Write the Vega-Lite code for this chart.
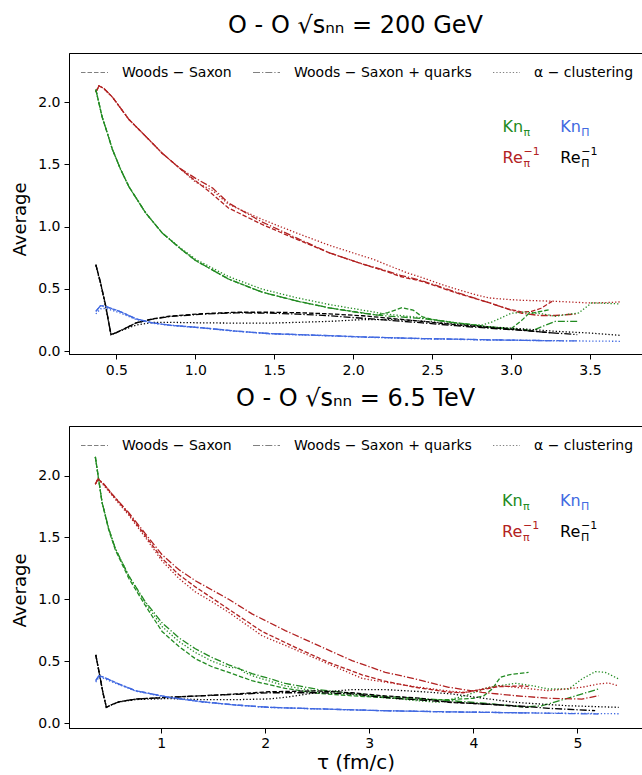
{
"$schema":"https://vega.github.io/schema/vega-lite/v6.json",
"padding":{"left":11,"top":13,"right":2,"bottom":0},
"config":{"font":"DejaVu Sans","view":{"stroke":"black","strokeWidth":1},
"axis":{"domainColor":"black","tickColor":"black","labelColor":"black","titleColor":"black","labelFontSize":14,"titleFontSize":18,"titleFontWeight":"normal","tickSize":5,"labelPadding":4,"grid":false,"labelFont":"DejaVu Sans","titleFont":"DejaVu Sans","titlePadding":8},
"title":{"fontSize":24,"fontWeight":"normal","font":"DejaVu Sans","anchor":"middle","frame":"group","offset":15,"color":"black"},
"legend":{"orient":"none","legendX":11,"legendY":5,"direction":"horizontal","gridAlign":"none","symbolType":"stroke","symbolStrokeColor":"#808080","symbolStrokeWidth":1.2,"symbolSize":729,"labelFontSize":14,"labelFont":"DejaVu Sans","labelColor":"black","labelLimit":400,"columnPadding":18,"labelOffset":13,"padding":0,"title":null}},
"resolve":{"scale":{"strokeDash":"independent","color":"independent"},"legend":{"strokeDash":"independent"}},
"spacing":8,
"datasets":{
"top":[
{"m":"WS","q":"Re_pi","t":0.37,"v":2.08},{"m":"WS","q":"Re_pi","t":0.39,"v":2.13},{"m":"WS","q":"Re_pi","t":0.42,"v":2.11},{"m":"WS","q":"Re_pi","t":0.475,"v":2.04},{"m":"WS","q":"Re_pi","t":0.58,"v":1.86},{"m":"WS","q":"Re_pi","t":0.69,"v":1.72},{"m":"WS","q":"Re_pi","t":0.79,"v":1.59},{"m":"WS","q":"Re_pi","t":0.9,"v":1.47},{"m":"WS","q":"Re_pi","t":1.0,"v":1.37},{"m":"WS","q":"Re_pi","t":1.1,"v":1.27},{"m":"WS","q":"Re_pi","t":1.21,"v":1.15},{"m":"WS","q":"Re_pi","t":1.42,"v":1.02},{"m":"WS","q":"Re_pi","t":1.64,"v":0.9},{"m":"WS","q":"Re_pi","t":1.85,"v":0.79},{"m":"WS","q":"Re_pi","t":2.06,"v":0.7},{"m":"WS","q":"Re_pi","t":2.2,"v":0.645},{"m":"WS","q":"Re_pi","t":2.3,"v":0.6},{"m":"WS","q":"Re_pi","t":2.44,"v":0.56},{"m":"WS","q":"Re_pi","t":2.65,"v":0.47},{"m":"WS","q":"Re_pi","t":2.86,"v":0.39},{"m":"WS","q":"Re_pi","t":2.98,"v":0.34},{"m":"WS","q":"Re_pi","t":3.07,"v":0.315},{"m":"WS","q":"Re_pi","t":3.13,"v":0.32},{"m":"WS","q":"Re_pi","t":3.19,"v":0.345},{"m":"WS","q":"Re_pi","t":3.26,"v":0.4},
{"m":"WSq","q":"Re_pi","t":0.37,"v":2.08},{"m":"WSq","q":"Re_pi","t":0.39,"v":2.13},{"m":"WSq","q":"Re_pi","t":0.42,"v":2.11},{"m":"WSq","q":"Re_pi","t":0.475,"v":2.04},{"m":"WSq","q":"Re_pi","t":0.58,"v":1.86},{"m":"WSq","q":"Re_pi","t":0.69,"v":1.72},{"m":"WSq","q":"Re_pi","t":0.79,"v":1.59},{"m":"WSq","q":"Re_pi","t":0.9,"v":1.47},{"m":"WSq","q":"Re_pi","t":1.0,"v":1.39},{"m":"WSq","q":"Re_pi","t":1.11,"v":1.31},{"m":"WSq","q":"Re_pi","t":1.21,"v":1.19},{"m":"WSq","q":"Re_pi","t":1.42,"v":1.04},{"m":"WSq","q":"Re_pi","t":1.64,"v":0.91},{"m":"WSq","q":"Re_pi","t":1.85,"v":0.79},{"m":"WSq","q":"Re_pi","t":2.06,"v":0.7},{"m":"WSq","q":"Re_pi","t":2.2,"v":0.65},{"m":"WSq","q":"Re_pi","t":2.3,"v":0.61},{"m":"WSq","q":"Re_pi","t":2.44,"v":0.565},{"m":"WSq","q":"Re_pi","t":2.65,"v":0.475},{"m":"WSq","q":"Re_pi","t":2.86,"v":0.39},{"m":"WSq","q":"Re_pi","t":2.99,"v":0.335},{"m":"WSq","q":"Re_pi","t":3.07,"v":0.305},{"m":"WSq","q":"Re_pi","t":3.18,"v":0.287},{"m":"WSq","q":"Re_pi","t":3.28,"v":0.287},{"m":"WSq","q":"Re_pi","t":3.42,"v":0.3},
{"m":"alpha","q":"Re_pi","t":0.37,"v":2.08},{"m":"alpha","q":"Re_pi","t":0.39,"v":2.13},{"m":"alpha","q":"Re_pi","t":0.42,"v":2.11},{"m":"alpha","q":"Re_pi","t":0.475,"v":2.04},{"m":"alpha","q":"Re_pi","t":0.58,"v":1.86},{"m":"alpha","q":"Re_pi","t":0.69,"v":1.72},{"m":"alpha","q":"Re_pi","t":0.79,"v":1.59},{"m":"alpha","q":"Re_pi","t":0.9,"v":1.47},{"m":"alpha","q":"Re_pi","t":1.0,"v":1.36},{"m":"alpha","q":"Re_pi","t":1.11,"v":1.29},{"m":"alpha","q":"Re_pi","t":1.21,"v":1.18},{"m":"alpha","q":"Re_pi","t":1.42,"v":1.06},{"m":"alpha","q":"Re_pi","t":1.64,"v":0.95},{"m":"alpha","q":"Re_pi","t":1.85,"v":0.85},{"m":"alpha","q":"Re_pi","t":2.06,"v":0.765},{"m":"alpha","q":"Re_pi","t":2.13,"v":0.737},{"m":"alpha","q":"Re_pi","t":2.34,"v":0.63},{"m":"alpha","q":"Re_pi","t":2.44,"v":0.59},{"m":"alpha","q":"Re_pi","t":2.56,"v":0.536},{"m":"alpha","q":"Re_pi","t":2.65,"v":0.5},{"m":"alpha","q":"Re_pi","t":2.77,"v":0.456},{"m":"alpha","q":"Re_pi","t":2.86,"v":0.428},{"m":"alpha","q":"Re_pi","t":2.99,"v":0.415},{"m":"alpha","q":"Re_pi","t":3.07,"v":0.409},{"m":"alpha","q":"Re_pi","t":3.28,"v":0.401},{"m":"alpha","q":"Re_pi","t":3.49,"v":0.388},{"m":"alpha","q":"Re_pi","t":3.6,"v":0.39},{"m":"alpha","q":"Re_pi","t":3.69,"v":0.396},
{"m":"WS","q":"Kn_pi","t":0.37,"v":2.1},{"m":"WS","q":"Kn_pi","t":0.39,"v":1.99},{"m":"WS","q":"Kn_pi","t":0.41,"v":1.88},{"m":"WS","q":"Kn_pi","t":0.443,"v":1.75},{"m":"WS","q":"Kn_pi","t":0.475,"v":1.62},{"m":"WS","q":"Kn_pi","t":0.527,"v":1.46},{"m":"WS","q":"Kn_pi","t":0.58,"v":1.32},{"m":"WS","q":"Kn_pi","t":0.686,"v":1.11},{"m":"WS","q":"Kn_pi","t":0.79,"v":0.95},{"m":"WS","q":"Kn_pi","t":0.9,"v":0.83},{"m":"WS","q":"Kn_pi","t":1.0,"v":0.73},{"m":"WS","q":"Kn_pi","t":1.21,"v":0.58},{"m":"WS","q":"Kn_pi","t":1.42,"v":0.476},{"m":"WS","q":"Kn_pi","t":1.64,"v":0.404},{"m":"WS","q":"Kn_pi","t":1.85,"v":0.348},{"m":"WS","q":"Kn_pi","t":2.06,"v":0.308},{"m":"WS","q":"Kn_pi","t":2.15,"v":0.29},{"m":"WS","q":"Kn_pi","t":2.22,"v":0.31},{"m":"WS","q":"Kn_pi","t":2.31,"v":0.35},{"m":"WS","q":"Kn_pi","t":2.38,"v":0.33},{"m":"WS","q":"Kn_pi","t":2.44,"v":0.275},{"m":"WS","q":"Kn_pi","t":2.5,"v":0.255},{"m":"WS","q":"Kn_pi","t":2.65,"v":0.228},{"m":"WS","q":"Kn_pi","t":2.77,"v":0.212},{"m":"WS","q":"Kn_pi","t":2.86,"v":0.196},{"m":"WS","q":"Kn_pi","t":3.0,"v":0.18},{"m":"WS","q":"Kn_pi","t":3.07,"v":0.25},{"m":"WS","q":"Kn_pi","t":3.11,"v":0.3},{"m":"WS","q":"Kn_pi","t":3.25,"v":0.335},
{"m":"WSq","q":"Kn_pi","t":0.37,"v":2.1},{"m":"WSq","q":"Kn_pi","t":0.39,"v":1.99},{"m":"WSq","q":"Kn_pi","t":0.41,"v":1.88},{"m":"WSq","q":"Kn_pi","t":0.443,"v":1.75},{"m":"WSq","q":"Kn_pi","t":0.475,"v":1.62},{"m":"WSq","q":"Kn_pi","t":0.527,"v":1.46},{"m":"WSq","q":"Kn_pi","t":0.58,"v":1.32},{"m":"WSq","q":"Kn_pi","t":0.686,"v":1.11},{"m":"WSq","q":"Kn_pi","t":0.79,"v":0.95},{"m":"WSq","q":"Kn_pi","t":0.9,"v":0.83},{"m":"WSq","q":"Kn_pi","t":1.0,"v":0.73},{"m":"WSq","q":"Kn_pi","t":1.21,"v":0.58},{"m":"WSq","q":"Kn_pi","t":1.42,"v":0.476},{"m":"WSq","q":"Kn_pi","t":1.64,"v":0.404},{"m":"WSq","q":"Kn_pi","t":1.85,"v":0.348},{"m":"WSq","q":"Kn_pi","t":2.06,"v":0.305},{"m":"WSq","q":"Kn_pi","t":2.2,"v":0.285},{"m":"WSq","q":"Kn_pi","t":2.44,"v":0.262},{"m":"WSq","q":"Kn_pi","t":2.65,"v":0.228},{"m":"WSq","q":"Kn_pi","t":2.86,"v":0.196},{"m":"WSq","q":"Kn_pi","t":3.0,"v":0.18},{"m":"WSq","q":"Kn_pi","t":3.09,"v":0.174},{"m":"WSq","q":"Kn_pi","t":3.13,"v":0.162},{"m":"WSq","q":"Kn_pi","t":3.2,"v":0.2},{"m":"WSq","q":"Kn_pi","t":3.28,"v":0.24},{"m":"WSq","q":"Kn_pi","t":3.42,"v":0.24},
{"m":"alpha","q":"Kn_pi","t":0.37,"v":2.1},{"m":"alpha","q":"Kn_pi","t":0.39,"v":1.99},{"m":"alpha","q":"Kn_pi","t":0.41,"v":1.88},{"m":"alpha","q":"Kn_pi","t":0.443,"v":1.75},{"m":"alpha","q":"Kn_pi","t":0.475,"v":1.62},{"m":"alpha","q":"Kn_pi","t":0.527,"v":1.46},{"m":"alpha","q":"Kn_pi","t":0.58,"v":1.32},{"m":"alpha","q":"Kn_pi","t":0.686,"v":1.11},{"m":"alpha","q":"Kn_pi","t":0.79,"v":0.95},{"m":"alpha","q":"Kn_pi","t":0.9,"v":0.835},{"m":"alpha","q":"Kn_pi","t":1.0,"v":0.74},{"m":"alpha","q":"Kn_pi","t":1.21,"v":0.6},{"m":"alpha","q":"Kn_pi","t":1.42,"v":0.5},{"m":"alpha","q":"Kn_pi","t":1.64,"v":0.43},{"m":"alpha","q":"Kn_pi","t":1.85,"v":0.375},{"m":"alpha","q":"Kn_pi","t":2.06,"v":0.33},{"m":"alpha","q":"Kn_pi","t":2.2,"v":0.3},{"m":"alpha","q":"Kn_pi","t":2.44,"v":0.268},{"m":"alpha","q":"Kn_pi","t":2.65,"v":0.228},{"m":"alpha","q":"Kn_pi","t":2.77,"v":0.21},{"m":"alpha","q":"Kn_pi","t":2.82,"v":0.212},{"m":"alpha","q":"Kn_pi","t":2.88,"v":0.235},{"m":"alpha","q":"Kn_pi","t":2.96,"v":0.281},{"m":"alpha","q":"Kn_pi","t":3.0,"v":0.305},{"m":"alpha","q":"Kn_pi","t":3.09,"v":0.315},{"m":"alpha","q":"Kn_pi","t":3.2,"v":0.3},{"m":"alpha","q":"Kn_pi","t":3.28,"v":0.281},{"m":"alpha","q":"Kn_pi","t":3.43,"v":0.308},{"m":"alpha","q":"Kn_pi","t":3.51,"v":0.388},{"m":"alpha","q":"Kn_pi","t":3.6,"v":0.385},{"m":"alpha","q":"Kn_pi","t":3.69,"v":0.38},
{"m":"WS","q":"Re_Pi","t":0.37,"v":0.695},{"m":"WS","q":"Re_Pi","t":0.4,"v":0.55},{"m":"WS","q":"Re_Pi","t":0.43,"v":0.38},{"m":"WS","q":"Re_Pi","t":0.466,"v":0.134},{"m":"WS","q":"Re_Pi","t":0.5,"v":0.15},{"m":"WS","q":"Re_Pi","t":0.55,"v":0.18},{"m":"WS","q":"Re_Pi","t":0.625,"v":0.228},{"m":"WS","q":"Re_Pi","t":0.73,"v":0.26},{"m":"WS","q":"Re_Pi","t":0.835,"v":0.281},{"m":"WS","q":"Re_Pi","t":1.046,"v":0.302},{"m":"WS","q":"Re_Pi","t":1.257,"v":0.313},{"m":"WS","q":"Re_Pi","t":1.47,"v":0.313},{"m":"WS","q":"Re_Pi","t":1.65,"v":0.31},{"m":"WS","q":"Re_Pi","t":1.85,"v":0.3},{"m":"WS","q":"Re_Pi","t":2.06,"v":0.285},{"m":"WS","q":"Re_Pi","t":2.44,"v":0.24},{"m":"WS","q":"Re_Pi","t":2.65,"v":0.212},{"m":"WS","q":"Re_Pi","t":2.86,"v":0.19},{"m":"WS","q":"Re_Pi","t":3.07,"v":0.17},{"m":"WS","q":"Re_Pi","t":3.26,"v":0.147},
{"m":"WSq","q":"Re_Pi","t":0.37,"v":0.695},{"m":"WSq","q":"Re_Pi","t":0.4,"v":0.55},{"m":"WSq","q":"Re_Pi","t":0.43,"v":0.38},{"m":"WSq","q":"Re_Pi","t":0.466,"v":0.134},{"m":"WSq","q":"Re_Pi","t":0.5,"v":0.15},{"m":"WSq","q":"Re_Pi","t":0.55,"v":0.18},{"m":"WSq","q":"Re_Pi","t":0.625,"v":0.228},{"m":"WSq","q":"Re_Pi","t":0.73,"v":0.258},{"m":"WSq","q":"Re_Pi","t":0.835,"v":0.278},{"m":"WSq","q":"Re_Pi","t":1.046,"v":0.298},{"m":"WSq","q":"Re_Pi","t":1.257,"v":0.308},{"m":"WSq","q":"Re_Pi","t":1.47,"v":0.306},{"m":"WSq","q":"Re_Pi","t":1.65,"v":0.298},{"m":"WSq","q":"Re_Pi","t":1.85,"v":0.285},{"m":"WSq","q":"Re_Pi","t":2.06,"v":0.265},{"m":"WSq","q":"Re_Pi","t":2.44,"v":0.228},{"m":"WSq","q":"Re_Pi","t":2.65,"v":0.205},{"m":"WSq","q":"Re_Pi","t":2.86,"v":0.185},{"m":"WSq","q":"Re_Pi","t":3.07,"v":0.168},{"m":"WSq","q":"Re_Pi","t":3.26,"v":0.148},{"m":"WSq","q":"Re_Pi","t":3.42,"v":0.134},
{"m":"alpha","q":"Re_Pi","t":0.37,"v":0.69},{"m":"alpha","q":"Re_Pi","t":0.4,"v":0.54},{"m":"alpha","q":"Re_Pi","t":0.43,"v":0.37},{"m":"alpha","q":"Re_Pi","t":0.466,"v":0.134},{"m":"alpha","q":"Re_Pi","t":0.5,"v":0.15},{"m":"alpha","q":"Re_Pi","t":0.55,"v":0.175},{"m":"alpha","q":"Re_Pi","t":0.625,"v":0.21},{"m":"alpha","q":"Re_Pi","t":0.73,"v":0.232},{"m":"alpha","q":"Re_Pi","t":0.835,"v":0.232},{"m":"alpha","q":"Re_Pi","t":1.046,"v":0.228},{"m":"alpha","q":"Re_Pi","t":1.257,"v":0.226},{"m":"alpha","q":"Re_Pi","t":1.47,"v":0.226},{"m":"alpha","q":"Re_Pi","t":1.65,"v":0.232},{"m":"alpha","q":"Re_Pi","t":1.85,"v":0.24},{"m":"alpha","q":"Re_Pi","t":2.06,"v":0.254},{"m":"alpha","q":"Re_Pi","t":2.25,"v":0.255},{"m":"alpha","q":"Re_Pi","t":2.44,"v":0.242},{"m":"alpha","q":"Re_Pi","t":2.65,"v":0.218},{"m":"alpha","q":"Re_Pi","t":2.86,"v":0.196},{"m":"alpha","q":"Re_Pi","t":3.07,"v":0.18},{"m":"alpha","q":"Re_Pi","t":3.28,"v":0.16},{"m":"alpha","q":"Re_Pi","t":3.49,"v":0.147},{"m":"alpha","q":"Re_Pi","t":3.69,"v":0.128},
{"m":"WS","q":"Kn_Pi","t":0.37,"v":0.32},{"m":"WS","q":"Kn_Pi","t":0.4,"v":0.366},{"m":"WS","q":"Kn_Pi","t":0.43,"v":0.36},{"m":"WS","q":"Kn_Pi","t":0.52,"v":0.321},{"m":"WS","q":"Kn_Pi","t":0.625,"v":0.26},{"m":"WS","q":"Kn_Pi","t":0.73,"v":0.228},{"m":"WS","q":"Kn_Pi","t":0.835,"v":0.21},{"m":"WS","q":"Kn_Pi","t":1.046,"v":0.188},{"m":"WS","q":"Kn_Pi","t":1.257,"v":0.162},{"m":"WS","q":"Kn_Pi","t":1.47,"v":0.142},{"m":"WS","q":"Kn_Pi","t":1.85,"v":0.125},{"m":"WS","q":"Kn_Pi","t":2.06,"v":0.115},{"m":"WS","q":"Kn_Pi","t":2.44,"v":0.102},{"m":"WS","q":"Kn_Pi","t":2.86,"v":0.092},{"m":"WS","q":"Kn_Pi","t":3.07,"v":0.088},{"m":"WS","q":"Kn_Pi","t":3.26,"v":0.085},
{"m":"WSq","q":"Kn_Pi","t":0.37,"v":0.32},{"m":"WSq","q":"Kn_Pi","t":0.4,"v":0.366},{"m":"WSq","q":"Kn_Pi","t":0.43,"v":0.36},{"m":"WSq","q":"Kn_Pi","t":0.52,"v":0.321},{"m":"WSq","q":"Kn_Pi","t":0.625,"v":0.26},{"m":"WSq","q":"Kn_Pi","t":0.73,"v":0.228},{"m":"WSq","q":"Kn_Pi","t":0.835,"v":0.21},{"m":"WSq","q":"Kn_Pi","t":1.046,"v":0.188},{"m":"WSq","q":"Kn_Pi","t":1.257,"v":0.162},{"m":"WSq","q":"Kn_Pi","t":1.47,"v":0.142},{"m":"WSq","q":"Kn_Pi","t":1.85,"v":0.125},{"m":"WSq","q":"Kn_Pi","t":2.06,"v":0.115},{"m":"WSq","q":"Kn_Pi","t":2.44,"v":0.102},{"m":"WSq","q":"Kn_Pi","t":2.86,"v":0.092},{"m":"WSq","q":"Kn_Pi","t":3.07,"v":0.088},{"m":"WSq","q":"Kn_Pi","t":3.26,"v":0.085},{"m":"WSq","q":"Kn_Pi","t":3.42,"v":0.083},
{"m":"alpha","q":"Kn_Pi","t":0.37,"v":0.3},{"m":"alpha","q":"Kn_Pi","t":0.4,"v":0.34},{"m":"alpha","q":"Kn_Pi","t":0.43,"v":0.345},{"m":"alpha","q":"Kn_Pi","t":0.52,"v":0.31},{"m":"alpha","q":"Kn_Pi","t":0.625,"v":0.255},{"m":"alpha","q":"Kn_Pi","t":0.73,"v":0.225},{"m":"alpha","q":"Kn_Pi","t":0.835,"v":0.208},{"m":"alpha","q":"Kn_Pi","t":1.046,"v":0.186},{"m":"alpha","q":"Kn_Pi","t":1.257,"v":0.16},{"m":"alpha","q":"Kn_Pi","t":1.47,"v":0.14},{"m":"alpha","q":"Kn_Pi","t":1.85,"v":0.123},{"m":"alpha","q":"Kn_Pi","t":2.06,"v":0.113},{"m":"alpha","q":"Kn_Pi","t":2.44,"v":0.1},{"m":"alpha","q":"Kn_Pi","t":2.86,"v":0.09},{"m":"alpha","q":"Kn_Pi","t":3.07,"v":0.087},{"m":"alpha","q":"Kn_Pi","t":3.28,"v":0.084},{"m":"alpha","q":"Kn_Pi","t":3.49,"v":0.082},{"m":"alpha","q":"Kn_Pi","t":3.69,"v":0.08}
],
"bot":[
{"m":"WSq","q":"Kn_pi","t":0.368,"v":2.15},{"m":"WSq","q":"Kn_pi","t":0.4,"v":1.97},{"m":"WSq","q":"Kn_pi","t":0.432,"v":1.785},{"m":"WSq","q":"Kn_pi","t":0.497,"v":1.57},{"m":"WSq","q":"Kn_pi","t":0.56,"v":1.41},{"m":"WSq","q":"Kn_pi","t":0.689,"v":1.19},{"m":"WSq","q":"Kn_pi","t":0.848,"v":0.98},{"m":"WSq","q":"Kn_pi","t":1.009,"v":0.81},{"m":"WSq","q":"Kn_pi","t":1.169,"v":0.69},{"m":"WSq","q":"Kn_pi","t":1.329,"v":0.6},{"m":"WSq","q":"Kn_pi","t":1.489,"v":0.53},{"m":"WSq","q":"Kn_pi","t":1.649,"v":0.47},{"m":"WSq","q":"Kn_pi","t":1.873,"v":0.4},{"m":"WSq","q":"Kn_pi","t":2.037,"v":0.36},{"m":"WSq","q":"Kn_pi","t":2.193,"v":0.32},{"m":"WSq","q":"Kn_pi","t":2.514,"v":0.27},{"m":"WSq","q":"Kn_pi","t":2.834,"v":0.24},{"m":"WSq","q":"Kn_pi","t":3.154,"v":0.215},{"m":"WSq","q":"Kn_pi","t":3.474,"v":0.2},{"m":"WSq","q":"Kn_pi","t":3.794,"v":0.18},{"m":"WSq","q":"Kn_pi","t":4.1,"v":0.16},{"m":"WSq","q":"Kn_pi","t":4.5,"v":0.13},{"m":"WSq","q":"Kn_pi","t":4.66,"v":0.14},{"m":"WSq","q":"Kn_pi","t":4.88,"v":0.194},{"m":"WSq","q":"Kn_pi","t":5.2,"v":0.275},
{"m":"alpha","q":"Kn_pi","t":0.368,"v":2.15},{"m":"alpha","q":"Kn_pi","t":0.4,"v":1.97},{"m":"alpha","q":"Kn_pi","t":0.432,"v":1.785},{"m":"alpha","q":"Kn_pi","t":0.497,"v":1.57},{"m":"alpha","q":"Kn_pi","t":0.56,"v":1.41},{"m":"alpha","q":"Kn_pi","t":0.689,"v":1.19},{"m":"alpha","q":"Kn_pi","t":0.848,"v":0.97},{"m":"alpha","q":"Kn_pi","t":1.009,"v":0.78},{"m":"alpha","q":"Kn_pi","t":1.169,"v":0.66},{"m":"alpha","q":"Kn_pi","t":1.329,"v":0.57},{"m":"alpha","q":"Kn_pi","t":1.489,"v":0.5},{"m":"alpha","q":"Kn_pi","t":1.649,"v":0.45},{"m":"alpha","q":"Kn_pi","t":1.745,"v":0.445},{"m":"alpha","q":"Kn_pi","t":1.8,"v":0.41},{"m":"alpha","q":"Kn_pi","t":1.873,"v":0.383},{"m":"alpha","q":"Kn_pi","t":2.037,"v":0.34},{"m":"alpha","q":"Kn_pi","t":2.193,"v":0.3},{"m":"alpha","q":"Kn_pi","t":2.514,"v":0.255},{"m":"alpha","q":"Kn_pi","t":2.834,"v":0.23},{"m":"alpha","q":"Kn_pi","t":3.154,"v":0.205},{"m":"alpha","q":"Kn_pi","t":3.474,"v":0.18},{"m":"alpha","q":"Kn_pi","t":3.666,"v":0.167},{"m":"alpha","q":"Kn_pi","t":3.922,"v":0.221},{"m":"alpha","q":"Kn_pi","t":4.147,"v":0.289},{"m":"alpha","q":"Kn_pi","t":4.403,"v":0.321},{"m":"alpha","q":"Kn_pi","t":4.563,"v":0.302},{"m":"alpha","q":"Kn_pi","t":4.723,"v":0.275},{"m":"alpha","q":"Kn_pi","t":4.915,"v":0.275},{"m":"alpha","q":"Kn_pi","t":5.043,"v":0.356},{"m":"alpha","q":"Kn_pi","t":5.171,"v":0.415},{"m":"alpha","q":"Kn_pi","t":5.267,"v":0.41},{"m":"alpha","q":"Kn_pi","t":5.396,"v":0.356},
{"m":"WS","q":"Kn_pi","t":0.368,"v":2.15},{"m":"WS","q":"Kn_pi","t":0.4,"v":1.97},{"m":"WS","q":"Kn_pi","t":0.432,"v":1.785},{"m":"WS","q":"Kn_pi","t":0.497,"v":1.56},{"m":"WS","q":"Kn_pi","t":0.56,"v":1.4},{"m":"WS","q":"Kn_pi","t":0.689,"v":1.17},{"m":"WS","q":"Kn_pi","t":0.848,"v":0.95},{"m":"WS","q":"Kn_pi","t":1.009,"v":0.74},{"m":"WS","q":"Kn_pi","t":1.169,"v":0.62},{"m":"WS","q":"Kn_pi","t":1.329,"v":0.52},{"m":"WS","q":"Kn_pi","t":1.489,"v":0.455},{"m":"WS","q":"Kn_pi","t":1.649,"v":0.41},{"m":"WS","q":"Kn_pi","t":1.873,"v":0.342},{"m":"WS","q":"Kn_pi","t":2.037,"v":0.31},{"m":"WS","q":"Kn_pi","t":2.193,"v":0.28},{"m":"WS","q":"Kn_pi","t":2.514,"v":0.24},{"m":"WS","q":"Kn_pi","t":2.834,"v":0.22},{"m":"WS","q":"Kn_pi","t":3.154,"v":0.205},{"m":"WS","q":"Kn_pi","t":3.474,"v":0.19},{"m":"WS","q":"Kn_pi","t":3.794,"v":0.19},{"m":"WS","q":"Kn_pi","t":4.0,"v":0.2},{"m":"WS","q":"Kn_pi","t":4.1,"v":0.22},{"m":"WS","q":"Kn_pi","t":4.18,"v":0.275},{"m":"WS","q":"Kn_pi","t":4.26,"v":0.37},{"m":"WS","q":"Kn_pi","t":4.34,"v":0.39},{"m":"WS","q":"Kn_pi","t":4.53,"v":0.41},
{"m":"WSq","q":"Re_pi","t":0.368,"v":1.93},{"m":"WSq","q":"Re_pi","t":0.394,"v":1.973},{"m":"WSq","q":"Re_pi","t":0.45,"v":1.93},{"m":"WSq","q":"Re_pi","t":0.528,"v":1.85},{"m":"WSq","q":"Re_pi","t":0.689,"v":1.7},{"m":"WSq","q":"Re_pi","t":0.848,"v":1.53},{"m":"WSq","q":"Re_pi","t":1.009,"v":1.36},{"m":"WSq","q":"Re_pi","t":1.169,"v":1.24},{"m":"WSq","q":"Re_pi","t":1.329,"v":1.15},{"m":"WSq","q":"Re_pi","t":1.489,"v":1.075},{"m":"WSq","q":"Re_pi","t":1.649,"v":1.0},{"m":"WSq","q":"Re_pi","t":1.873,"v":0.882},{"m":"WSq","q":"Re_pi","t":2.193,"v":0.747},{"m":"WSq","q":"Re_pi","t":2.514,"v":0.625},{"m":"WSq","q":"Re_pi","t":2.834,"v":0.504},{"m":"WSq","q":"Re_pi","t":3.154,"v":0.41},{"m":"WSq","q":"Re_pi","t":3.442,"v":0.356},{"m":"WSq","q":"Re_pi","t":3.763,"v":0.289},{"m":"WSq","q":"Re_pi","t":4.083,"v":0.248},{"m":"WSq","q":"Re_pi","t":4.403,"v":0.221},{"m":"WSq","q":"Re_pi","t":4.723,"v":0.2},{"m":"WSq","q":"Re_pi","t":5.043,"v":0.194},{"m":"WSq","q":"Re_pi","t":5.203,"v":0.221},
{"m":"WS","q":"Re_pi","t":0.368,"v":1.93},{"m":"WS","q":"Re_pi","t":0.394,"v":1.973},{"m":"WS","q":"Re_pi","t":0.45,"v":1.93},{"m":"WS","q":"Re_pi","t":0.528,"v":1.85},{"m":"WS","q":"Re_pi","t":0.689,"v":1.69},{"m":"WS","q":"Re_pi","t":0.848,"v":1.515},{"m":"WS","q":"Re_pi","t":1.009,"v":1.33},{"m":"WS","q":"Re_pi","t":1.169,"v":1.2},{"m":"WS","q":"Re_pi","t":1.329,"v":1.1},{"m":"WS","q":"Re_pi","t":1.489,"v":1.01},{"m":"WS","q":"Re_pi","t":1.649,"v":0.92},{"m":"WS","q":"Re_pi","t":1.969,"v":0.74},{"m":"WS","q":"Re_pi","t":2.289,"v":0.612},{"m":"WS","q":"Re_pi","t":2.61,"v":0.49},{"m":"WS","q":"Re_pi","t":2.93,"v":0.39},{"m":"WS","q":"Re_pi","t":3.14,"v":0.34},{"m":"WS","q":"Re_pi","t":3.44,"v":0.289},{"m":"WS","q":"Re_pi","t":3.76,"v":0.25},{"m":"WS","q":"Re_pi","t":3.9,"v":0.245},{"m":"WS","q":"Re_pi","t":4.08,"v":0.27},{"m":"WS","q":"Re_pi","t":4.24,"v":0.294},{"m":"WS","q":"Re_pi","t":4.47,"v":0.3},{"m":"WS","q":"Re_pi","t":4.53,"v":0.295},
{"m":"alpha","q":"Re_pi","t":0.368,"v":1.93},{"m":"alpha","q":"Re_pi","t":0.394,"v":1.973},{"m":"alpha","q":"Re_pi","t":0.45,"v":1.92},{"m":"alpha","q":"Re_pi","t":0.528,"v":1.84},{"m":"alpha","q":"Re_pi","t":0.689,"v":1.68},{"m":"alpha","q":"Re_pi","t":0.848,"v":1.5},{"m":"alpha","q":"Re_pi","t":1.009,"v":1.31},{"m":"alpha","q":"Re_pi","t":1.169,"v":1.17},{"m":"alpha","q":"Re_pi","t":1.329,"v":1.06},{"m":"alpha","q":"Re_pi","t":1.489,"v":0.98},{"m":"alpha","q":"Re_pi","t":1.649,"v":0.895},{"m":"alpha","q":"Re_pi","t":1.969,"v":0.706},{"m":"alpha","q":"Re_pi","t":2.289,"v":0.593},{"m":"alpha","q":"Re_pi","t":2.61,"v":0.477},{"m":"alpha","q":"Re_pi","t":2.93,"v":0.361},{"m":"alpha","q":"Re_pi","t":3.154,"v":0.33},{"m":"alpha","q":"Re_pi","t":3.474,"v":0.29},{"m":"alpha","q":"Re_pi","t":3.794,"v":0.255},{"m":"alpha","q":"Re_pi","t":3.92,"v":0.248},{"m":"alpha","q":"Re_pi","t":4.083,"v":0.275},{"m":"alpha","q":"Re_pi","t":4.243,"v":0.302},{"m":"alpha","q":"Re_pi","t":4.403,"v":0.289},{"m":"alpha","q":"Re_pi","t":4.563,"v":0.275},{"m":"alpha","q":"Re_pi","t":4.723,"v":0.262},{"m":"alpha","q":"Re_pi","t":4.883,"v":0.275},{"m":"alpha","q":"Re_pi","t":5.043,"v":0.289},{"m":"alpha","q":"Re_pi","t":5.203,"v":0.316},{"m":"alpha","q":"Re_pi","t":5.299,"v":0.324},{"m":"alpha","q":"Re_pi","t":5.395,"v":0.3},
{"m":"WS","q":"Re_Pi","t":0.372,"v":0.55},{"m":"WS","q":"Re_Pi","t":0.4,"v":0.43},{"m":"WS","q":"Re_Pi","t":0.44,"v":0.25},{"m":"WS","q":"Re_Pi","t":0.474,"v":0.127},{"m":"WS","q":"Re_Pi","t":0.53,"v":0.15},{"m":"WS","q":"Re_Pi","t":0.596,"v":0.172},{"m":"WS","q":"Re_Pi","t":0.756,"v":0.194},{"m":"WS","q":"Re_Pi","t":1.076,"v":0.208},{"m":"WS","q":"Re_Pi","t":1.396,"v":0.221},{"m":"WS","q":"Re_Pi","t":1.717,"v":0.235},{"m":"WS","q":"Re_Pi","t":2.037,"v":0.253},{"m":"WS","q":"Re_Pi","t":2.5,"v":0.26},{"m":"WS","q":"Re_Pi","t":2.834,"v":0.245},{"m":"WS","q":"Re_Pi","t":3.122,"v":0.221},{"m":"WS","q":"Re_Pi","t":3.5,"v":0.2},{"m":"WS","q":"Re_Pi","t":3.763,"v":0.167},{"m":"WS","q":"Re_Pi","t":4.2,"v":0.15},{"m":"WS","q":"Re_Pi","t":4.531,"v":0.127},
{"m":"WSq","q":"Re_Pi","t":0.372,"v":0.55},{"m":"WSq","q":"Re_Pi","t":0.4,"v":0.43},{"m":"WSq","q":"Re_Pi","t":0.44,"v":0.25},{"m":"WSq","q":"Re_Pi","t":0.474,"v":0.127},{"m":"WSq","q":"Re_Pi","t":0.53,"v":0.15},{"m":"WSq","q":"Re_Pi","t":0.596,"v":0.172},{"m":"WSq","q":"Re_Pi","t":0.756,"v":0.194},{"m":"WSq","q":"Re_Pi","t":1.076,"v":0.208},{"m":"WSq","q":"Re_Pi","t":1.396,"v":0.22},{"m":"WSq","q":"Re_Pi","t":1.717,"v":0.232},{"m":"WSq","q":"Re_Pi","t":2.037,"v":0.245},{"m":"WSq","q":"Re_Pi","t":2.5,"v":0.245},{"m":"WSq","q":"Re_Pi","t":2.834,"v":0.235},{"m":"WSq","q":"Re_Pi","t":3.122,"v":0.208},{"m":"WSq","q":"Re_Pi","t":3.5,"v":0.185},{"m":"WSq","q":"Re_Pi","t":4.083,"v":0.154},{"m":"WSq","q":"Re_Pi","t":4.5,"v":0.135},{"m":"WSq","q":"Re_Pi","t":4.723,"v":0.119},{"m":"WSq","q":"Re_Pi","t":5.17,"v":0.1},
{"m":"alpha","q":"Re_Pi","t":0.372,"v":0.55},{"m":"alpha","q":"Re_Pi","t":0.4,"v":0.43},{"m":"alpha","q":"Re_Pi","t":0.44,"v":0.25},{"m":"alpha","q":"Re_Pi","t":0.474,"v":0.127},{"m":"alpha","q":"Re_Pi","t":0.53,"v":0.15},{"m":"alpha","q":"Re_Pi","t":0.596,"v":0.17},{"m":"alpha","q":"Re_Pi","t":0.756,"v":0.19},{"m":"alpha","q":"Re_Pi","t":1.076,"v":0.198},{"m":"alpha","q":"Re_Pi","t":1.396,"v":0.189},{"m":"alpha","q":"Re_Pi","t":1.717,"v":0.189},{"m":"alpha","q":"Re_Pi","t":2.037,"v":0.195},{"m":"alpha","q":"Re_Pi","t":2.193,"v":0.208},{"m":"alpha","q":"Re_Pi","t":2.514,"v":0.248},{"m":"alpha","q":"Re_Pi","t":2.834,"v":0.27},{"m":"alpha","q":"Re_Pi","t":3.154,"v":0.27},{"m":"alpha","q":"Re_Pi","t":3.474,"v":0.255},{"m":"alpha","q":"Re_Pi","t":3.794,"v":0.235},{"m":"alpha","q":"Re_Pi","t":4.1,"v":0.2},{"m":"alpha","q":"Re_Pi","t":4.4,"v":0.167},{"m":"alpha","q":"Re_Pi","t":4.9,"v":0.14},{"m":"alpha","q":"Re_Pi","t":5.396,"v":0.127},
{"m":"WS","q":"Kn_Pi","t":0.372,"v":0.342},{"m":"WS","q":"Kn_Pi","t":0.403,"v":0.383},{"m":"WS","q":"Kn_Pi","t":0.45,"v":0.37},{"m":"WS","q":"Kn_Pi","t":0.596,"v":0.315},{"m":"WS","q":"Kn_Pi","t":0.756,"v":0.261},{"m":"WS","q":"Kn_Pi","t":1.076,"v":0.208},{"m":"WS","q":"Kn_Pi","t":1.396,"v":0.172},{"m":"WS","q":"Kn_Pi","t":1.717,"v":0.146},{"m":"WS","q":"Kn_Pi","t":2.037,"v":0.127},{"m":"WS","q":"Kn_Pi","t":2.5,"v":0.115},{"m":"WS","q":"Kn_Pi","t":3.122,"v":0.1},{"m":"WS","q":"Kn_Pi","t":3.8,"v":0.09},{"m":"WS","q":"Kn_Pi","t":4.53,"v":0.082},
{"m":"WSq","q":"Kn_Pi","t":0.372,"v":0.342},{"m":"WSq","q":"Kn_Pi","t":0.403,"v":0.383},{"m":"WSq","q":"Kn_Pi","t":0.45,"v":0.37},{"m":"WSq","q":"Kn_Pi","t":0.596,"v":0.315},{"m":"WSq","q":"Kn_Pi","t":0.756,"v":0.261},{"m":"WSq","q":"Kn_Pi","t":1.076,"v":0.208},{"m":"WSq","q":"Kn_Pi","t":1.396,"v":0.172},{"m":"WSq","q":"Kn_Pi","t":1.717,"v":0.146},{"m":"WSq","q":"Kn_Pi","t":2.037,"v":0.127},{"m":"WSq","q":"Kn_Pi","t":2.5,"v":0.115},{"m":"WSq","q":"Kn_Pi","t":3.122,"v":0.1},{"m":"WSq","q":"Kn_Pi","t":3.8,"v":0.09},{"m":"WSq","q":"Kn_Pi","t":4.53,"v":0.082},{"m":"WSq","q":"Kn_Pi","t":5.2,"v":0.073},
{"m":"alpha","q":"Kn_Pi","t":0.372,"v":0.33},{"m":"alpha","q":"Kn_Pi","t":0.403,"v":0.37},{"m":"alpha","q":"Kn_Pi","t":0.45,"v":0.36},{"m":"alpha","q":"Kn_Pi","t":0.596,"v":0.31},{"m":"alpha","q":"Kn_Pi","t":0.756,"v":0.258},{"m":"alpha","q":"Kn_Pi","t":1.076,"v":0.205},{"m":"alpha","q":"Kn_Pi","t":1.396,"v":0.17},{"m":"alpha","q":"Kn_Pi","t":1.717,"v":0.145},{"m":"alpha","q":"Kn_Pi","t":2.037,"v":0.126},{"m":"alpha","q":"Kn_Pi","t":2.5,"v":0.114},{"m":"alpha","q":"Kn_Pi","t":3.122,"v":0.1},{"m":"alpha","q":"Kn_Pi","t":3.8,"v":0.09},{"m":"alpha","q":"Kn_Pi","t":4.53,"v":0.082},{"m":"alpha","q":"Kn_Pi","t":5.396,"v":0.075}
],
"labtop":[
{"q":"Kn_pi","t":2.947,"v":1.759,"base":"Kn","sub":"π","sup":""},
{"q":"Kn_Pi","t":3.312,"v":1.759,"base":"Kn","sub":"Π","sup":""},
{"q":"Re_pi","t":2.947,"v":1.51,"base":"Re","sub":"π","sup":"−1"},
{"q":"Re_Pi","t":3.312,"v":1.51,"base":"Re","sub":"Π","sup":"−1"}
],
"labbot":[
{"q":"Kn_pi","t":4.275,"v":1.753,"base":"Kn","sub":"π","sup":""},
{"q":"Kn_Pi","t":4.832,"v":1.753,"base":"Kn","sub":"Π","sup":""},
{"q":"Re_pi","t":4.275,"v":1.502,"base":"Re","sub":"π","sup":"−1"},
{"q":"Re_Pi","t":4.832,"v":1.502,"base":"Re","sub":"Π","sup":"−1"}
]
},
"vconcat":[
{"title":{"text":"O - O √sₙₙ = 200 GeV"},
"width":573,"height":301,
"encoding":{
"x":{"field":"t","type":"quantitative","scale":{"domain":[0.2,3.83],"nice":false,"zero":false},"axis":{"values":[0.5,1,1.5,2,2.5,3,3.5],"format":".1f","title":null}},
"y":{"field":"v","type":"quantitative","scale":{"domain":[-0.022,2.394],"nice":false,"zero":false},"axis":{"values":[0,0.5,1,1.5,2],"format":".1f","title":"Average","titleY":166}},
"color":{"field":"q","type":"nominal","scale":{"domain":["Kn_pi","Re_pi","Kn_Pi","Re_Pi"],"range":["#228b22","#b22222","#4169e1","#000000"]},"legend":null}
},
"layer":[
{"data":{"name":"top"},"mark":{"type":"line","strokeWidth":1.3,"clip":true},
"encoding":{"strokeDash":{"field":"m","type":"nominal","scale":{"domain":["WS","WSq","alpha"],"range":[[4.5,2],[7,2,1.3,2],[1.3,2]]},"legend":{"labelExpr":"datum.label == 'WS' ? 'Woods − Saxon' : datum.label == 'WSq' ? 'Woods − Saxon + quarks' : 'α − clustering'"}}}},
{"data":{"name":"labtop"},"mark":{"type":"text","align":"left","baseline":"alphabetic","fontSize":16},"encoding":{"text":{"field":"base"}}},
{"data":{"name":"labtop"},"mark":{"type":"text","align":"left","baseline":"alphabetic","fontSize":11,"dx":21,"dy":4},"encoding":{"text":{"field":"sub"}}},
{"data":{"name":"labtop"},"mark":{"type":"text","align":"left","baseline":"alphabetic","fontSize":11,"dx":21,"dy":-8},"encoding":{"text":{"field":"sup"}}}
]},
{"title":{"text":"O - O √sₙₙ = 6.5 TeV"},
"width":573,"height":302,
"encoding":{
"x":{"field":"t","type":"quantitative","scale":{"domain":[0.115,5.62],"nice":false,"zero":false},"axis":{"values":[1,2,3,4,5],"format":"d","title":"τ (fm/c)","titleFontSize":20,"labelPadding":3,"titlePadding":2}},
"y":{"field":"v","type":"quantitative","scale":{"domain":[-0.04,2.4],"nice":false,"zero":false},"axis":{"values":[0,0.5,1,1.5,2],"format":".1f","title":"Average","titleY":164}},
"color":{"field":"q","type":"nominal","scale":{"domain":["Kn_pi","Re_pi","Kn_Pi","Re_Pi"],"range":["#228b22","#b22222","#4169e1","#000000"]},"legend":null}
},
"layer":[
{"data":{"name":"bot"},"mark":{"type":"line","strokeWidth":1.3,"clip":true},
"encoding":{"strokeDash":{"field":"m","type":"nominal","scale":{"domain":["WS","WSq","alpha"],"range":[[4.5,2],[7,2,1.3,2],[1.3,2]]},"legend":{"labelExpr":"datum.label == 'WS' ? 'Woods − Saxon' : datum.label == 'WSq' ? 'Woods − Saxon + quarks' : 'α − clustering'"}}}},
{"data":{"name":"labbot"},"mark":{"type":"text","align":"left","baseline":"alphabetic","fontSize":16},"encoding":{"text":{"field":"base"}}},
{"data":{"name":"labbot"},"mark":{"type":"text","align":"left","baseline":"alphabetic","fontSize":11,"dx":21,"dy":4},"encoding":{"text":{"field":"sub"}}},
{"data":{"name":"labbot"},"mark":{"type":"text","align":"left","baseline":"alphabetic","fontSize":11,"dx":21,"dy":-8},"encoding":{"text":{"field":"sup"}}}
]}
]
}
